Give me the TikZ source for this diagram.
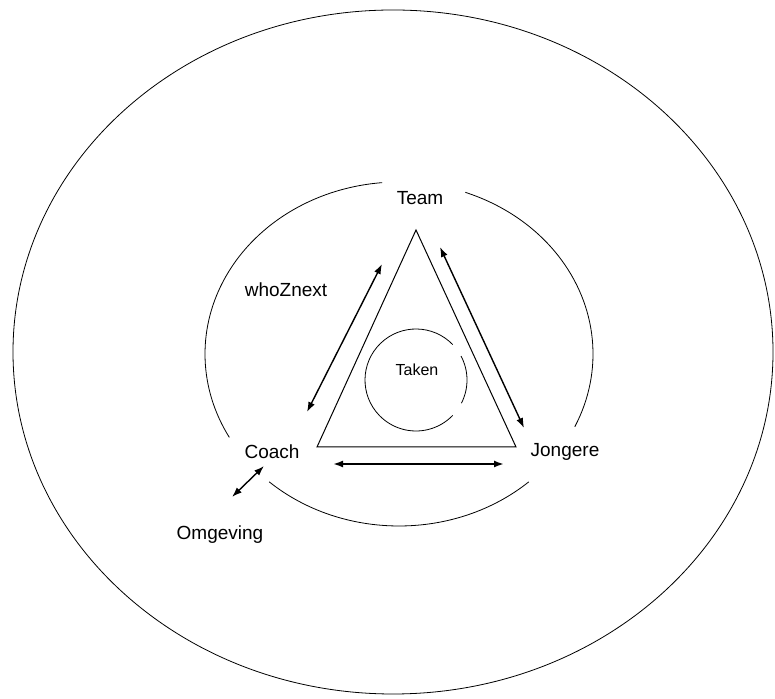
\documentclass[tikz,border=0pt]{standalone}
\usepackage{fontspec}
\setmainfont{Liberation Sans}
\usetikzlibrary{arrows.meta}
\begin{document}
\begin{tikzpicture}[x=1pt,y=1pt,
  lbl/.style={inner sep=0pt, font=\fontsize{19}{22}\selectfont},
  ring/.style={line width=0.8pt},
  link/.style={line width=1.4pt, {Latex[length=10pt,width=7pt]}-{Latex[length=10pt,width=7pt]}}]
  \useasboundingbox[fill=white] (0,0) rectangle (775,698);

  % outer environment
  \draw[ring] (393,346) ellipse[x radius=380pt, y radius=342pt];

  % inner ring, broken at the three corners
  \coordinate (ring) at (399,344);
  \draw[ring] ([shift={(95:194pt and 172pt)}]ring)
    arc[start angle=95, end angle=209, x radius=194pt, y radius=172pt];
  \draw[ring] ([shift={(-25:194pt and 172pt)}]ring)
    arc[start angle=-25, end angle=70, x radius=194pt, y radius=172pt];
  \draw[ring] ([shift={(228:194pt and 172pt)}]ring)
    arc[start angle=228, end angle=312, x radius=194pt, y radius=172pt];

  % triangle
  \coordinate (apex) at (416,468);
  \coordinate (bl) at (317,251);
  \coordinate (br) at (516,251);
  \draw[line width=1pt] (apex) -- (bl) -- (br) -- cycle;

  % task circle with two gaps
  \coordinate (tc) at (416,318);
  \draw[ring] ([shift={(44:51pt)}]tc) arc[start angle=44, end angle=316, radius=51pt];
  \draw[ring] ([shift={(-27:51pt)}]tc) arc[start angle=-27, end angle=28, radius=51pt];

  % labels
  \node[lbl] (team) at (420,500) {Team};
  \node[lbl] (who) at (286,408) {whoZnext};
  \node[inner sep=0pt, font=\fontsize{16}{19}\selectfont] (taken) at (417,328) {Taken};
  \node[lbl] (coach) at (272,246) {Coach};
  \node[lbl] (jong) at (565,246) {Jongere};
  \node[lbl] (omg) at (220,163) {Omgeving};

  % arrow end points
  \coordinate (ct1) at (307,286);
  \coordinate (ct2) at (382,434);
  \coordinate (tj1) at (440,451);
  \coordinate (tj2) at (524,270);
  \coordinate (cj1) at (333,234);
  \coordinate (cj2) at (504,234);
  \coordinate (co1) at (232,201);
  \coordinate (co2) at (264,232);

  \draw[link] (ct1) -- (ct2);
  \draw[link] (tj1) -- (tj2);
  \draw[link, line width=1.8pt] (cj1) -- (cj2);
  \draw[link] (co1) -- (co2);
\end{tikzpicture}
\end{document}
